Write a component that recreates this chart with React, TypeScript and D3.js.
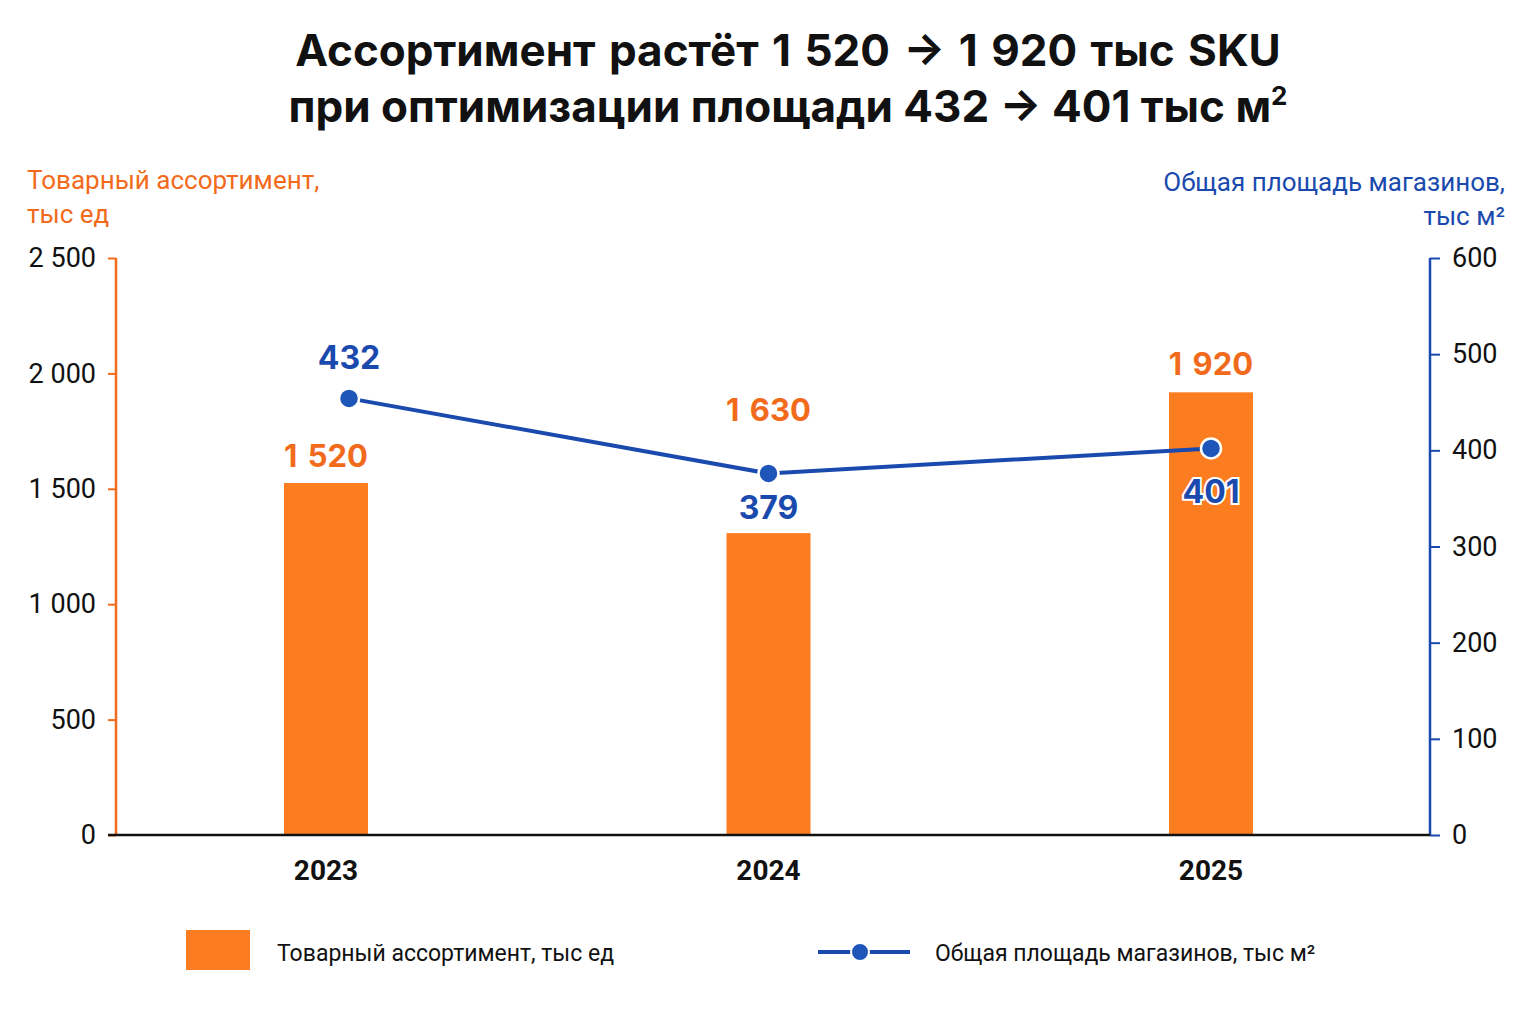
import React, { useEffect, useRef } from "react";
import * as d3 from "d3";

const years = ["2023", "2024", "2025"];
const assortment = [1525, 1308, 1918];
const assortmentLabels = ["1 520", "1 630", "1 920"];
const area = [454, 376, 402];
const areaLabels = ["432", "379", "401"];
const leftTicks = [0, 500, 1000, 1500, 2000, 2500];
const rightTicks = [0, 100, 200, 300, 400, 500, 600];

const ORANGE = "#FB7D1F";
const ORANGE_TXT = "#F26A1B";
const BLUE = "#1A4AAE";
const FONT = "Roboto, 'Noto Sans', sans-serif";
const BOLD_FONT = "Inter, Roboto, sans-serif";

const fmt = (v: number) => d3.format(",")(v).replace(/,/g, " ");

export default function App() {
  const ref = useRef<SVGSVGElement | null>(null);

  useEffect(() => {
    document.body.style.margin = "0";
    const svg = d3.select(ref.current);
    svg.selectAll("*").remove();

    const W = 1536, H = 1024;
    const left = 116, right = 1430, top = 258, bottom = 835;

    svg.append("rect").attr("width", W).attr("height", H).attr("fill", "#fff");

    const x = d3.scalePoint<string>().domain(years).range([326, 1211]);
    const yL = d3.scaleLinear().domain([0, 2500]).range([bottom, top]);
    const yR = d3.scaleLinear().domain([0, 600]).range([bottom, top]);

    // Title
    const title = svg.append("text").attr("text-anchor", "middle")
      .attr("font-family", BOLD_FONT).attr("font-weight", 700).attr("font-size", 44).attr("fill", "#111");
    title.append("tspan").attr("x", 788).attr("y", 66).attr("word-spacing", 3).text("Ассортимент растёт 1 520 → 1 920 тыс SKU");
    const t2 = title.append("tspan").attr("x", 788).attr("y", 122).text("при оптимизации площади 432 → 401 тыс м");
    t2.append("tspan").attr("font-size", 26).attr("dy", -17).text("2");

    // Axis titles
    const lt = svg.append("text").attr("font-family", FONT).attr("font-size", 26).attr("fill", ORANGE_TXT);
    lt.append("tspan").attr("x", 27).attr("y", 189).text("Товарный ассортимент,");
    lt.append("tspan").attr("x", 27).attr("y", 223).text("тыс ед");
    const rt = svg.append("text").attr("font-family", FONT).attr("font-size", 26).attr("fill", BLUE).attr("text-anchor", "end");
    rt.append("tspan").attr("x", 1505).attr("y", 191).text("Общая площадь магазинов,");
    rt.append("tspan").attr("x", 1505).attr("y", 225).text("тыс м²");

    // Left axis
    const gl = svg.append("g").attr("transform", `translate(${left},0)`)
      .call(d3.axisLeft(yL).tickValues(leftTicks).tickSize(8).tickPadding(12).tickFormat((d: any) => fmt(d)));
    gl.select(".domain").attr("stroke", ORANGE_TXT).attr("stroke-width", 2.5).attr("d", `M0,${top}V${bottom}`);
    gl.selectAll(".tick line").attr("stroke", ORANGE_TXT).attr("stroke-width", 2);
    gl.selectAll(".tick text").attr("font-family", FONT).attr("font-size", 27).attr("fill", "#111");

    // Right axis
    const gr = svg.append("g").attr("transform", `translate(${right},0)`)
      .call(d3.axisRight(yR).tickValues(rightTicks).tickSize(10).tickPadding(12));
    gr.select(".domain").attr("stroke", BLUE).attr("stroke-width", 2.5).attr("d", `M0,${top}V${bottom}`);
    gr.selectAll(".tick line").attr("stroke", BLUE).attr("stroke-width", 2);
    gr.selectAll(".tick text").attr("font-family", FONT).attr("font-size", 27).attr("fill", "#111");

    // Bars
    const bw = 84;
    svg.append("g").selectAll("rect").data(years).join("rect")
      .attr("x", (d) => (x(d) as number) - bw / 2)
      .attr("y", (_d, i) => yL(assortment[i]))
      .attr("width", bw)
      .attr("height", (_d, i) => bottom - yL(assortment[i]))
      .attr("fill", ORANGE);

    // Baseline
    svg.append("line").attr("x1", 108).attr("x2", right).attr("y1", bottom).attr("y2", bottom)
      .attr("stroke", "#111").attr("stroke-width", 2.5);

    // X labels
    svg.append("g").selectAll("text").data(years).join("text")
      .attr("x", (d) => x(d) as number).attr("y", 880).attr("text-anchor", "middle")
      .attr("font-family", FONT).attr("font-weight", 700).attr("font-size", 28).attr("fill", "#111")
      .text((d) => d);

    // Bar labels
    const barLabelY = [467, 421, 375];
    svg.append("g").selectAll("text").data(years).join("text")
      .attr("x", (d) => x(d) as number).attr("y", (_d, i) => barLabelY[i])
      .attr("text-anchor", "middle").attr("font-family", BOLD_FONT).attr("font-weight", 700)
      .attr("font-size", 31).attr("fill", ORANGE_TXT).attr("word-spacing", 3)
      .text((_d, i) => assortmentLabels[i]);

    // Line
    const pts: [number, number][] = years.map((d, i) => [(x(d) as number) + (i === 0 ? 23 : 0), yR(area[i])]);
    svg.append("path").attr("d", d3.line()(pts) as string).attr("fill", "none")
      .attr("stroke", BLUE).attr("stroke-width", 4);
    svg.append("g").selectAll("circle").data(pts).join("circle")
      .attr("cx", (d) => d[0]).attr("cy", (d) => d[1]).attr("r", 10)
      .attr("fill", "#1E55B9").attr("stroke", "#fff").attr("stroke-width", 2.5);

    // Line labels
    const lineLabelY = [369, 519, 503];
    svg.append("g").selectAll("text").data(pts).join("text")
      .attr("x", (d) => d[0]).attr("y", (_d, i) => lineLabelY[i])
      .attr("text-anchor", "middle").attr("font-family", BOLD_FONT).attr("font-weight", 700)
      .attr("font-size", 32).attr("fill", BLUE)
      .attr("stroke", "#fff").attr("stroke-width", 4).attr("paint-order", "stroke")
      .text((_d, i) => areaLabels[i]);

    // Legend
    svg.append("rect").attr("x", 186).attr("y", 930).attr("width", 64).attr("height", 40).attr("fill", ORANGE);
    svg.append("text").attr("x", 277).attr("y", 961).attr("font-family", FONT).attr("font-size", 23)
      .attr("fill", "#111").text("Товарный ассортимент, тыс ед");
    svg.append("line").attr("x1", 818).attr("x2", 910).attr("y1", 952).attr("y2", 952)
      .attr("stroke", BLUE).attr("stroke-width", 4);
    svg.append("circle").attr("cx", 860).attr("cy", 952).attr("r", 9).attr("fill", "#1E55B9")
      .attr("stroke", "#fff").attr("stroke-width", 2);
    svg.append("text").attr("x", 935).attr("y", 961).attr("font-family", FONT).attr("font-size", 23)
      .attr("fill", "#111").text("Общая площадь магазинов, тыс м²");
  }, []);

  return <svg ref={ref} width={1536} height={1024} style={{ display: "block" }} />;
}
